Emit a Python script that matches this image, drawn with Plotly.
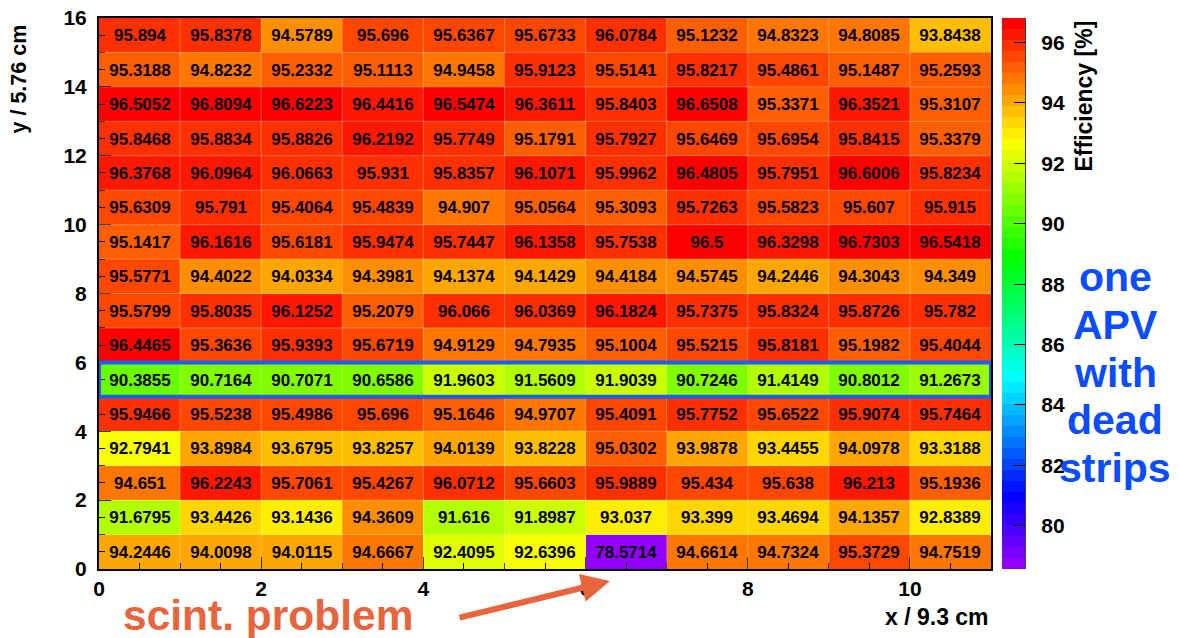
import colorsys
import plotly.graph_objects as go

# ---------------- data (rows listed top -> bottom, y = 16 .. 1) ----------------
row_16 = [95.894, 95.8378, 94.5789, 95.696, 95.6367, 95.6733, 96.0784, 95.1232, 94.8323, 94.8085, 93.8438]
row_15 = [95.3188, 94.8232, 95.2332, 95.1113, 94.9458, 95.9123, 95.5141, 95.8217, 95.4861, 95.1487, 95.2593]
row_14 = [96.5052, 96.8094, 96.6223, 96.4416, 96.5474, 96.3611, 95.8403, 96.6508, 95.3371, 96.3521, 95.3107]
row_13 = [95.8468, 95.8834, 95.8826, 96.2192, 95.7749, 95.1791, 95.7927, 95.6469, 95.6954, 95.8415, 95.3379]
row_12 = [96.3768, 96.0964, 96.0663, 95.931, 95.8357, 96.1071, 95.9962, 96.4805, 95.7951, 96.6006, 95.8234]
row_11 = [95.6309, 95.791, 95.4064, 95.4839, 94.907, 95.0564, 95.3093, 95.7263, 95.5823, 95.607, 95.915]
row_10 = [95.1417, 96.1616, 95.6181, 95.9474, 95.7447, 96.1358, 95.7538, 96.5, 96.3298, 96.7303, 96.5418]
row_09 = [95.5771, 94.4022, 94.0334, 94.3981, 94.1374, 94.1429, 94.4184, 94.5745, 94.2446, 94.3043, 94.349]
row_08 = [95.5799, 95.8035, 96.1252, 95.2079, 96.066, 96.0369, 96.1824, 95.7375, 95.8324, 95.8726, 95.782]
row_07 = [96.4465, 95.3636, 95.9393, 95.6719, 94.9129, 94.7935, 95.1004, 95.5215, 95.8181, 95.1982, 95.4044]
row_06 = [90.3855, 90.7164, 90.7071, 90.6586, 91.9603, 91.5609, 91.9039, 90.7246, 91.4149, 90.8012, 91.2673]
row_05 = [95.9466, 95.5238, 95.4986, 95.696, 95.1646, 94.9707, 95.4091, 95.7752, 95.6522, 95.9074, 95.7464]
row_04 = [92.7941, 93.8984, 93.6795, 93.8257, 94.0139, 93.8228, 95.0302, 93.9878, 93.4455, 94.0978, 93.3188]
row_03 = [94.651, 96.2243, 95.7061, 95.4267, 96.0712, 95.6603, 95.9889, 95.434, 95.638, 96.213, 95.1936]
row_02 = [91.6795, 93.4426, 93.1436, 94.3609, 91.616, 91.8987, 93.037, 93.399, 93.4694, 94.1357, 92.8389]
row_01 = [94.2446, 94.0098, 94.0115, 94.6667, 92.4095, 92.6396, 78.5714, 94.6614, 94.7324, 95.3729, 94.7519]

rows_top_down = [row_16, row_15, row_14, row_13, row_12, row_11, row_10, row_09,
                 row_08, row_07, row_06, row_05, row_04, row_03, row_02, row_01]
z = rows_top_down[::-1]           # bottom row first
n_y = len(z)
n_x = len(z[0])
x_centers = [i + 0.5 for i in range(n_x)]
y_centers = [j + 0.5 for j in range(n_y)]
text = [[f"{v:g}" for v in r] for r in z]

dead_row = 6                      # row (1-based from bottom) with the dead-strip APV
x_ticks = [0, 2, 4, 6, 8, 10]
y_ticks = [0, 2, 4, 6, 8, 10, 12, 14, 16]
cb_ticks = [80, 82, 84, 86, 88, 90, 92, 94, 96]

zmin = min(min(r) for r in z)
zmax = max(max(r) for r in z)

# ---------------- ROOT "pretty" palette: 50 discrete HLS colours --------------
n_col = 50
colorscale = []
for i in range(n_col):
    hue = 280.0 - (i + 1) * (280.0 / n_col)
    r, g, b = colorsys.hls_to_rgb(hue / 360.0, 0.5, 1.0)
    c = f"rgb({int(round(r*255))},{int(round(g*255))},{int(round(b*255))})"
    colorscale.append([i / n_col, c])
    colorscale.append([(i + 1) / n_col, c])

# ---------------- geometry helpers (pixels -> paper) --------------------------
W, H = 1179, 638
L, R, T, B = 99, 188, 18, 69
PW, PH = W - L - R, H - T - B


def px(xp):
    return (xp - L) / PW


def py(yp):
    return (H - B - yp) / PH


FONT = "Liberation Sans, Arial, Helvetica, sans-serif"
NBSP = "\u00a0"

fig = go.Figure()
fig.add_trace(go.Heatmap(
    x=x_centers, y=y_centers, z=z, text=text,
    texttemplate="<b>%{text}</b>",
    textfont=dict(family=FONT, size=17, color="black"),
    colorscale=colorscale, zmin=zmin, zmax=zmax,
    hoverinfo="skip",
    colorbar=dict(
        thickness=23, thicknessmode="pixels", len=1, lenmode="fraction",
        x=px(1002), xanchor="left", xpad=0, y=0.5, yanchor="middle", ypad=0,
        outlinewidth=0,
        tickvals=cb_ticks, ticktext=[NBSP * 2 + str(t) for t in cb_ticks],
        ticks="inside", ticklen=11, tickwidth=1, tickcolor="black",
        ticklabelposition="outside",
        tickfont=dict(family=FONT, size=21, color="black", weight="bold"),
    ),
))

shapes = []
# faint cell borders
for i in range(1, n_x):
    shapes.append(dict(type="line", xref="x", yref="y", x0=i, x1=i, y0=0, y1=n_y,
                       line=dict(color="rgba(255,255,255,0.28)", width=1), layer="above"))
for j in range(1, n_y):
    shapes.append(dict(type="line", xref="x", yref="y", x0=0, x1=n_x, y0=j, y1=j,
                       line=dict(color="rgba(255,255,255,0.28)", width=1), layer="above"))
# blue box around the dead-strip row
shapes.append(dict(type="rect", xref="x", yref="y", x0=0, x1=n_x, y0=dead_row - 1, y1=dead_row,
                   line=dict(color="#1a5ff0", width=4), fillcolor="rgba(0,0,0,0)", layer="above"))
# colour bar axis line
shapes.append(dict(type="line", xref="paper", yref="paper", x0=px(1025), x1=px(1025), y0=0, y1=1,
                   line=dict(color="black", width=1.5)))

annotations = [
    dict(text="<b>Efficiency [%]</b>", xref="paper", yref="paper", x=px(1083), y=py(19),
         xanchor="center", yanchor="top", textangle=-90, showarrow=False,
         font=dict(family=FONT, size=23, color="black")),
    dict(text="<b>y / 5.76 cm</b>", xref="paper", yref="paper", x=px(18), y=py(23),
         xanchor="center", yanchor="top", textangle=-90, showarrow=False,
         font=dict(family=FONT, size=21.5, color="black")),
    dict(text="<b>x / 9.3 cm</b>", xref="paper", yref="paper", x=px(991), y=py(617),
         xanchor="right", yanchor="middle", showarrow=False,
         font=dict(family=FONT, size=23, color="black")),
    dict(text="<b>scint. problem</b>", xref="paper", yref="paper", x=px(121), y=py(615),
         xanchor="left", yanchor="middle", showarrow=False,
         font=dict(family=FONT, size=42.5, color="#e8643c")),
    dict(text="", xref="paper", yref="paper", x=px(610), y=py(581),
         ax=458 - 610, ay=618 - 581, axref="pixel", ayref="pixel",
         showarrow=True, arrowhead=2, arrowsize=0.95, arrowwidth=6, arrowcolor="#e8643c"),
]
for word, yc in zip(["one", "APV", "with", "dead", "strips"], [277, 325, 373, 420, 468]):
    annotations.append(dict(text=f"<b>{word}</b>", xref="paper", yref="paper", x=px(1115), y=py(yc),
                            xanchor="center", yanchor="middle", showarrow=False,
                            font=dict(family=FONT, size=41, color="#0a4cff")))

axis_common = dict(
    ticks="inside", ticklen=12, tickwidth=1, tickcolor="black",
    showline=True, linecolor="black", linewidth=2, mirror=True,
    showgrid=False, zeroline=False, automargin=False,
    tickfont=dict(family=FONT, size=21, color="black", weight="bold"),
    minor=dict(ticks="inside", ticklen=6, dtick=0.5, tickcolor="black", tickwidth=1, showgrid=False),
)
fig.update_xaxes(range=[0, n_x], tickvals=x_ticks, ticklabelstandoff=0, **axis_common)
fig.update_yaxes(range=[0, n_y], tickvals=y_ticks, ticklabelstandoff=6, **axis_common)

fig.update_layout(
    width=W, height=H, autosize=False,
    margin=dict(l=L, r=R, t=T, b=B, pad=0, autoexpand=False),
    paper_bgcolor="white", plot_bgcolor="white",
    shapes=shapes, annotations=annotations,
    showlegend=False,
)

fig.write_html("out.html", config={"displayModeBar": False},
               post_script="document.body.style.margin='0';document.body.style.padding='0';")
